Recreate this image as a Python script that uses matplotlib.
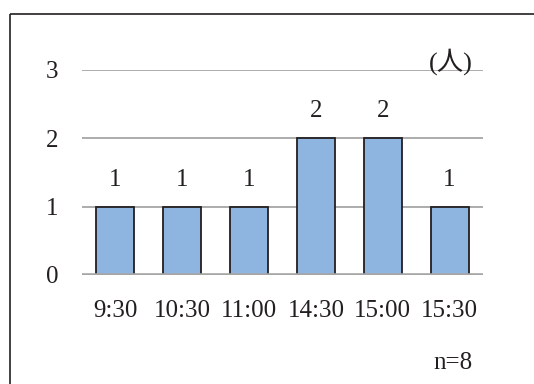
import matplotlib
matplotlib.use('Agg')
import matplotlib.pyplot as plt
from matplotlib.lines import Line2D

# 来場時刻ごとの人数
times = ['9:30', '10:30', '11:00', '14:30', '15:00', '15:30']
counts = [1, 1, 1, 2, 2, 1]
yticks = [0, 1, 2, 3]
unit_label = '(人)'
n_label = 'n=8'

plt.rcParams['font.family'] = ['Liberation Serif', 'Noto Sans CJK JP']
FS = 18
INK = '#231f20'

fig = plt.figure(figsize=(5.34, 3.84), dpi=100)
ax = fig.add_axes([0.1536, 0.284, 0.7509, 0.534])

# 外枠（上辺と左辺のみ見える）
fx, fy = 9.5 / 534, 1 - 13.5 / 384
fig.add_artist(Line2D([fx, 1.05], [fy, fy], transform=fig.transFigure,
                      color=INK, lw=1.2, solid_capstyle='butt'))
fig.add_artist(Line2D([fx, fx], [-0.05, fy], transform=fig.transFigure,
                      color=INK, lw=1.2, solid_capstyle='butt'))

x = range(len(times))
bars = ax.bar(x, counts, width=0.57, color='#8eb4e0', edgecolor=INK,
              linewidth=1.3, zorder=3)

for b, c in zip(bars, counts):
    ax.annotate(str(c), (b.get_x() + b.get_width() / 2, c),
                xytext=(0, 19.5), textcoords='offset points',
                ha='center', va='center', fontsize=FS, color=INK)

ax.set_xlim(-0.5, len(times) - 0.5)
ax.set_ylim(0, 3)
ax.set_yticks(yticks)
ax.set_xticks(list(x))
ax.set_xticklabels(times)
ax.tick_params(axis='both', length=0, labelsize=FS, labelcolor=INK)
ax.tick_params(axis='y', pad=17)
ax.tick_params(axis='x', pad=18)

for v in yticks[1:]:
    ax.axhline(v, color='#a6a6a6', lw=1.3, zorder=1)
ax.axhline(0, color='#a6a6a6', lw=2.6, zorder=4)

for s in ax.spines.values():
    s.set_visible(False)

ax.text(0.975, 3.12, unit_label, transform=ax.get_yaxis_transform(),
        ha='right', va='center', fontsize=FS + 1, color=INK)
fig.text(453 / 534, 1 - 363 / 384, n_label, ha='center', va='center',
         fontsize=FS, color=INK)

fig.savefig('out.png', dpi=100)
